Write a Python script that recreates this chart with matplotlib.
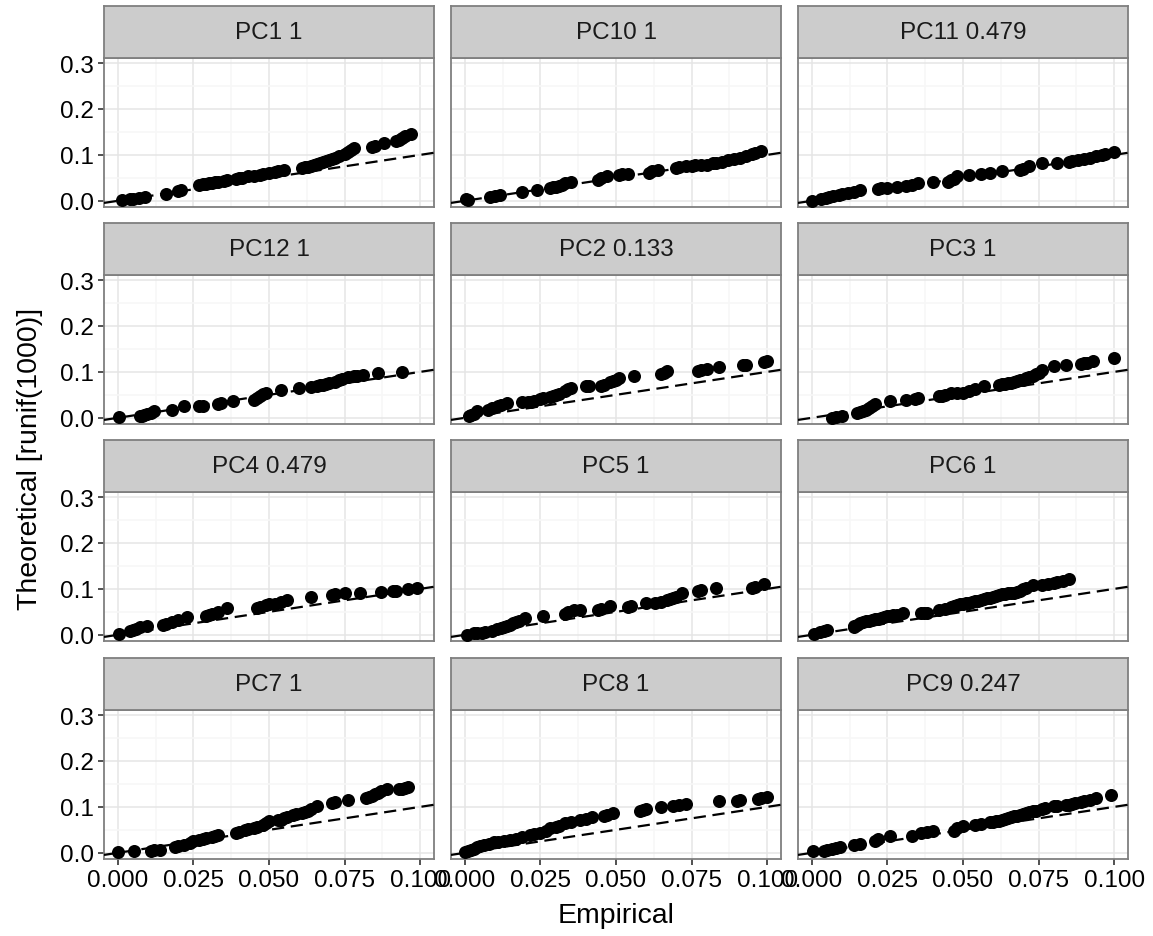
import numpy as np
import matplotlib
matplotlib.use("Agg")
import matplotlib.pyplot as plt

plt.rcParams['font.family'] = ['Liberation Sans', 'DejaVu Sans']

# facet titles, in facet_wrap order
titles = ["PC1 1", "PC10 1", "PC11 0.479",
          "PC12 1", "PC2 0.133", "PC3 1",
          "PC4 0.479", "PC5 1", "PC6 1",
          "PC7 1", "PC8 1", "PC9 0.247"]

# empirical (x) / theoretical (y) values
pc1_x = [0.0013, 0.004, 0.005, 0.007, 0.009, 0.016, 0.020, 0.021, 0.027, 0.028, 0.029, 0.030, 0.031, 0.032, 0.033,
         0.035, 0.036, 0.039, 0.040, 0.041, 0.043, 0.045, 0.047, 0.048, 0.050, 0.052, 0.053, 0.055, 0.061, 0.062,
         0.063, 0.064, 0.065, 0.066, 0.067, 0.068, 0.069, 0.070, 0.071, 0.072, 0.073, 0.075, 0.076, 0.077,
         0.078, 0.084, 0.085, 0.088, 0.092, 0.093, 0.094, 0.095, 0.097]
pc1_y = [0.002, 0.003, 0.004, 0.006, 0.009, 0.015, 0.022, 0.024, 0.035, 0.036, 0.037, 0.038, 0.039, 0.040, 0.041,
         0.044, 0.046, 0.047, 0.049, 0.050, 0.053, 0.055, 0.057, 0.058, 0.061, 0.063, 0.064, 0.066, 0.072, 0.073,
         0.074, 0.076, 0.079, 0.080, 0.082, 0.084, 0.086, 0.088, 0.090, 0.094, 0.097, 0.102, 0.106, 0.110,
         0.115, 0.118, 0.120, 0.126, 0.130, 0.133, 0.137, 0.141, 0.145]

pc10_x = [0.0003, 0.001, 0.0083, 0.010, 0.0116, 0.019, 0.024, 0.028, 0.029, 0.030, 0.031, 0.032, 0.033, 0.035,
          0.044, 0.045, 0.047, 0.051, 0.052, 0.054, 0.061, 0.062, 0.064, 0.070, 0.071, 0.073, 0.075, 0.076, 0.078,
          0.080, 0.082, 0.083, 0.085, 0.087, 0.089, 0.091, 0.093, 0.095, 0.096, 0.098]
pc10_y = [0.004, 0.001, 0.009, 0.011, 0.013, 0.020, 0.024, 0.028, 0.030, 0.031, 0.033, 0.035, 0.038, 0.042,
          0.046, 0.049, 0.053, 0.057, 0.058, 0.059, 0.061, 0.064, 0.068, 0.072, 0.073, 0.075, 0.076, 0.077, 0.077,
          0.079, 0.082, 0.083, 0.085, 0.088, 0.091, 0.094, 0.098, 0.103, 0.105, 0.108]

pc11_x = [0.0, 0.003, 0.0045, 0.0058, 0.007, 0.009, 0.010, 0.012, 0.014, 0.016, 0.022, 0.023, 0.025, 0.028, 0.031,
          0.033, 0.035, 0.040, 0.045, 0.046, 0.047, 0.048, 0.052, 0.056, 0.059, 0.063, 0.069, 0.070, 0.072, 0.076,
          0.081, 0.085, 0.086, 0.088, 0.090, 0.092, 0.094, 0.096, 0.097, 0.100]
pc11_y = [0.0, 0.004, 0.006, 0.009, 0.011, 0.013, 0.015, 0.018, 0.020, 0.024, 0.026, 0.027, 0.028, 0.030, 0.033,
          0.034, 0.039, 0.042, 0.042, 0.045, 0.048, 0.053, 0.057, 0.059, 0.061, 0.064, 0.068, 0.070, 0.075, 0.082,
          0.082, 0.084, 0.086, 0.088, 0.091, 0.094, 0.097, 0.099, 0.101, 0.106]

pc12_x = [0.0002, 0.0073, 0.008, 0.0085, 0.0096, 0.011, 0.012, 0.018, 0.022, 0.027, 0.028, 0.033, 0.034, 0.038,
          0.045, 0.046, 0.047, 0.048, 0.049, 0.054, 0.060, 0.064, 0.066, 0.067, 0.068, 0.069, 0.070, 0.072, 0.073,
          0.074, 0.076, 0.078, 0.079, 0.081, 0.086, 0.094]
pc12_y = [0.001, 0.003, 0.005, 0.006, 0.009, 0.011, 0.014, 0.018, 0.025, 0.025, 0.026, 0.031, 0.032, 0.036,
          0.039, 0.044, 0.048, 0.052, 0.055, 0.060, 0.065, 0.067, 0.070, 0.071, 0.072, 0.074, 0.075, 0.079, 0.082,
          0.085, 0.088, 0.090, 0.092, 0.094, 0.097, 0.099]

pc2_x = [0.0012, 0.002, 0.003, 0.004, 0.0078, 0.009, 0.011, 0.012, 0.014, 0.019, 0.021, 0.022, 0.023, 0.025,
         0.026, 0.028, 0.029, 0.030, 0.031, 0.033, 0.034, 0.035, 0.040, 0.041, 0.045, 0.046, 0.048, 0.049, 0.050,
         0.051, 0.056, 0.065, 0.066, 0.067, 0.077, 0.078, 0.080, 0.084, 0.092, 0.093, 0.099, 0.100]
pc2_y = [0.003, 0.006, 0.009, 0.014, 0.018, 0.021, 0.026, 0.028, 0.032, 0.034, 0.035, 0.035, 0.036, 0.040,
         0.043, 0.045, 0.047, 0.049, 0.052, 0.058, 0.062, 0.065, 0.069, 0.070, 0.070, 0.072, 0.077, 0.080, 0.082,
         0.087, 0.092, 0.096, 0.098, 0.101, 0.103, 0.105, 0.107, 0.111, 0.115, 0.116, 0.121, 0.123]

pc3_x = [0.0066, 0.008, 0.0099, 0.015, 0.016, 0.017, 0.018, 0.019, 0.020, 0.021, 0.026, 0.031, 0.034, 0.035,
         0.042, 0.043, 0.044, 0.046, 0.048, 0.050, 0.052, 0.054, 0.057, 0.062, 0.063, 0.064, 0.065, 0.066, 0.067,
         0.068, 0.069, 0.070, 0.071, 0.072, 0.073, 0.074, 0.075, 0.076, 0.080, 0.084, 0.089, 0.090, 0.091, 0.093,
         0.100]
pc3_y = [-0.001, 0.001, 0.003, 0.010, 0.012, 0.015, 0.018, 0.021, 0.025, 0.030, 0.036, 0.038, 0.041, 0.043,
         0.047, 0.048, 0.050, 0.053, 0.054, 0.055, 0.059, 0.063, 0.069, 0.072, 0.073, 0.074, 0.075, 0.076, 0.078,
         0.080, 0.082, 0.083, 0.086, 0.089, 0.092, 0.095, 0.098, 0.105, 0.112, 0.116, 0.118, 0.119, 0.120, 0.123,
         0.131]

pc4_x = [0.0002, 0.004, 0.005, 0.006, 0.0074, 0.0096, 0.015, 0.016, 0.018, 0.020, 0.023, 0.029, 0.030, 0.031,
         0.033, 0.036, 0.046, 0.047, 0.049, 0.050, 0.052, 0.054, 0.056, 0.064, 0.071, 0.072, 0.075, 0.080, 0.087,
         0.091, 0.092, 0.096, 0.099]
pc4_y = [0.001, 0.009, 0.011, 0.013, 0.016, 0.019, 0.021, 0.024, 0.028, 0.032, 0.038, 0.041, 0.044, 0.046,
         0.050, 0.058, 0.058, 0.061, 0.065, 0.066, 0.068, 0.072, 0.076, 0.083, 0.087, 0.088, 0.090, 0.092, 0.094,
         0.095, 0.096, 0.099, 0.103]

pc5_x = [0.0007, 0.0029, 0.004, 0.0055, 0.0067, 0.009, 0.0106, 0.012, 0.013, 0.014, 0.015, 0.016, 0.017, 0.018,
         0.020, 0.026, 0.033, 0.034, 0.036, 0.038, 0.044, 0.045, 0.048, 0.054, 0.055, 0.060, 0.063, 0.065, 0.067,
         0.068, 0.069, 0.070, 0.072, 0.077, 0.078, 0.083, 0.095, 0.096, 0.099]
pc5_y = [-0.001, 0.003, 0.004, 0.005, 0.007, 0.009, 0.012, 0.014, 0.016, 0.019, 0.022, 0.025, 0.028, 0.031,
         0.036, 0.041, 0.045, 0.050, 0.053, 0.054, 0.054, 0.056, 0.063, 0.061, 0.062, 0.069, 0.070, 0.072, 0.075,
         0.077, 0.080, 0.083, 0.092, 0.095, 0.097, 0.101, 0.103, 0.105, 0.111]

pc6_x = [0.0006, 0.0028, 0.004, 0.005, 0.0138, 0.014, 0.015, 0.016, 0.017, 0.018, 0.019, 0.020, 0.021, 0.022,
         0.023, 0.024, 0.025, 0.026, 0.027, 0.028, 0.030, 0.036, 0.037, 0.038, 0.042, 0.044, 0.046, 0.047, 0.048,
         0.049, 0.050, 0.051, 0.052, 0.053, 0.054, 0.055, 0.056, 0.057, 0.058, 0.059, 0.060, 0.061, 0.062, 0.063,
         0.064, 0.065, 0.066, 0.067, 0.068, 0.069, 0.070, 0.071, 0.073, 0.076, 0.078, 0.080, 0.081, 0.083, 0.085]
pc6_y = [0.001, 0.007, 0.009, 0.010, 0.018, 0.020, 0.022, 0.025, 0.027, 0.029, 0.031, 0.032, 0.034, 0.035,
         0.037, 0.039, 0.040, 0.041, 0.043, 0.044, 0.047, 0.048, 0.048, 0.048, 0.054, 0.057, 0.061, 0.062, 0.064,
         0.067, 0.068, 0.069, 0.070, 0.072, 0.073, 0.074, 0.076, 0.078, 0.080, 0.081, 0.082, 0.084, 0.087, 0.088,
         0.089, 0.090, 0.091, 0.092, 0.094, 0.096, 0.099, 0.101, 0.108, 0.109, 0.111, 0.113, 0.116, 0.118, 0.121]

pc7_x = [0.0, 0.0052, 0.011, 0.012, 0.014, 0.019, 0.020, 0.022, 0.024, 0.025, 0.027, 0.028, 0.029, 0.031, 0.032,
         0.033, 0.039, 0.040, 0.042, 0.043, 0.045, 0.046, 0.048, 0.049, 0.050, 0.053, 0.054, 0.055, 0.056, 0.058,
         0.059, 0.061, 0.062, 0.063, 0.064, 0.066, 0.071, 0.072, 0.076, 0.082, 0.083, 0.084, 0.085, 0.086, 0.087,
         0.089, 0.093, 0.094, 0.095, 0.096]
pc7_y = [0.001, 0.003, 0.005, 0.006, 0.007, 0.012, 0.014, 0.018, 0.021, 0.025, 0.027, 0.030, 0.032, 0.034, 0.036,
         0.039, 0.043, 0.046, 0.050, 0.052, 0.054, 0.057, 0.061, 0.064, 0.069, 0.071, 0.072, 0.076, 0.078, 0.083,
         0.085, 0.087, 0.089, 0.091, 0.095, 0.103, 0.109, 0.110, 0.115, 0.120, 0.122, 0.124, 0.127, 0.130, 0.134,
         0.138, 0.138, 0.139, 0.141, 0.144]

pc8_x = [0.0001, 0.001, 0.002, 0.0029, 0.004, 0.005, 0.0062, 0.008, 0.0095, 0.011, 0.0128, 0.015, 0.017, 0.019,
         0.0216, 0.023, 0.025, 0.027, 0.028, 0.030, 0.031, 0.033, 0.035, 0.038, 0.040, 0.042, 0.046, 0.047, 0.049,
         0.058, 0.059, 0.060, 0.065, 0.069, 0.071, 0.073, 0.084, 0.090, 0.091, 0.097, 0.098, 0.100]
pc8_y = [0.001, 0.003, 0.006, 0.009, 0.012, 0.015, 0.018, 0.020, 0.023, 0.024, 0.025, 0.028, 0.031, 0.034,
         0.038, 0.040, 0.043, 0.048, 0.054, 0.056, 0.058, 0.065, 0.068, 0.072, 0.074, 0.077, 0.081, 0.083, 0.087,
         0.091, 0.093, 0.096, 0.099, 0.101, 0.104, 0.107, 0.112, 0.113, 0.114, 0.118, 0.119, 0.121]

pc9_x = [0.0003, 0.0039, 0.005, 0.0066, 0.008, 0.0094, 0.014, 0.016, 0.021, 0.022, 0.026, 0.033, 0.036, 0.038,
         0.040, 0.047, 0.048, 0.050, 0.054, 0.056, 0.059, 0.060, 0.061, 0.062, 0.063, 0.064, 0.065, 0.066, 0.067,
         0.068, 0.069, 0.070, 0.071, 0.072, 0.073, 0.074, 0.076, 0.077, 0.080, 0.081, 0.084, 0.085, 0.086, 0.087,
         0.089, 0.090, 0.092, 0.094, 0.099]
pc9_y = [0.003, 0.004, 0.006, 0.009, 0.010, 0.012, 0.016, 0.019, 0.026, 0.029, 0.036, 0.036, 0.043, 0.045,
         0.047, 0.048, 0.053, 0.058, 0.061, 0.063, 0.067, 0.068, 0.069, 0.070, 0.072, 0.073, 0.076, 0.077, 0.080,
         0.081, 0.083, 0.084, 0.087, 0.088, 0.090, 0.092, 0.095, 0.097, 0.101, 0.102, 0.104, 0.105, 0.107, 0.109,
         0.111, 0.113, 0.116, 0.120, 0.126]

xs = [pc1_x, pc10_x, pc11_x, pc12_x, pc2_x, pc3_x, pc4_x, pc5_x, pc6_x, pc7_x, pc8_x, pc9_x]
ys = [pc1_y, pc10_y, pc11_y, pc12_y, pc2_y, pc3_y, pc4_y, pc5_y, pc6_y, pc7_y, pc8_y, pc9_y]

x_ticks = [0.0, 0.025, 0.05, 0.075, 0.1]
x_labels = ["0.000", "0.025", "0.050", "0.075", "0.100"]
y_ticks = [0.0, 0.1, 0.2, 0.3]
y_labels = ["0.0", "0.1", "0.2", "0.3"]

W, H = 1153, 937
fig = plt.figure(figsize=(W / 100, H / 100), dpi=100)

def rect(left, top, w, h):
    return [left / W, 1 - (top + h) / H, w / W, h / H]

col_left = [104, 451, 798]
panel_top = [59, 276, 493, 711]
pw, ph, sh = 330, 149, 52

for i in range(12):
    r, c = divmod(i, 3)
    ax = fig.add_axes(rect(col_left[c], panel_top[r], pw, ph))
    ax.set_xlim(-0.0046, 0.1046)
    ax.set_ylim(-0.0135, 0.311)
    ax.set_xticks(x_ticks)
    ax.set_yticks(y_ticks)
    ax.set_xticks([0.0125, 0.0375, 0.0625, 0.0875], minor=True)
    ax.set_yticks([0.05, 0.15, 0.25], minor=True)
    ax.grid(which='major', color='#E5E5E5', lw=1.1)
    ax.grid(which='minor', color='#F7F7F7', lw=1.1)
    ax.set_axisbelow(True)
    ax.scatter(xs[i], ys[i], s=88, color='black', linewidths=0, zorder=3)
    ax.axline((0, 0), slope=1, color='black', lw=1.6, linestyle=(0, (5.5, 3)), zorder=4)
    for sp in ax.spines.values():
        sp.set_color('#7F7F7F')
        sp.set_linewidth(1.3)
    ax.tick_params(which='major', length=4.5, width=1.2, color='#333333', labelsize=17.5, pad=3)
    ax.tick_params(which='minor', length=0)
    if c == 0:
        ax.set_yticklabels(y_labels)
    else:
        ax.set_yticklabels([])
        ax.tick_params(axis='y', length=0)
    if r == 3:
        ax.set_xticklabels(x_labels)
    else:
        ax.set_xticklabels([])
        ax.tick_params(axis='x', length=0)

    sax = fig.add_axes(rect(col_left[c], panel_top[r] - sh, pw, sh))
    sax.set_facecolor('#CCCCCC')
    sax.set_xticks([])
    sax.set_yticks([])
    for sp in sax.spines.values():
        sp.set_color('#7F7F7F')
        sp.set_linewidth(1.3)
    sax.text(0.5, 0.5, titles[i], ha='center', va='center', fontsize=17.5, color='#1A1A1A',
             transform=sax.transAxes)

fig.text(col_left[1] / W + pw / W / 2, 1 - 916 / H, "Empirical", ha='center', va='center', fontsize=20.5)
fig.text(30 / W, 1 - 459 / H, "Theoretical [runif(1000)]", ha='center', va='center', rotation=90, fontsize=20.5)

fig.savefig("out.png", dpi=100)
